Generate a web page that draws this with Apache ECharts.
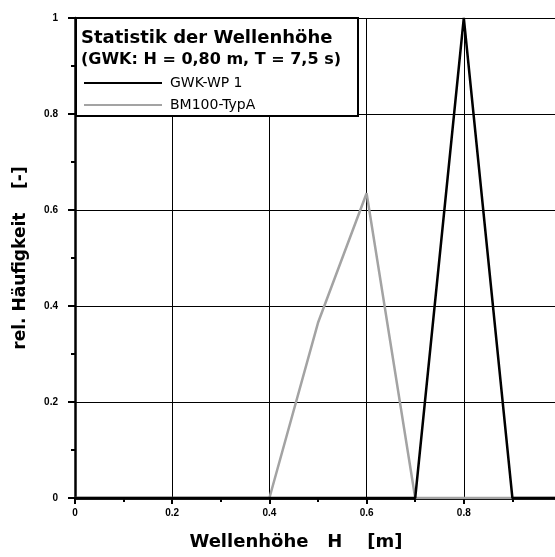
<!DOCTYPE html>
<html lang="de">
<head>
  <meta charset="UTF-8">
  <title>Statistik der Wellenhöhe</title>
  <script src="https://cdn.jsdelivr.net/npm/echarts@6/dist/echarts.min.js"></script>
  <style>
    html, body { margin: 0; padding: 0; background: #fff; }
    #chart { width: 555px; height: 557px; }
  </style>
</head>
<body>
<div id="chart"></div>
<script>
  // Wellenhöhe H [m] und relative Häufigkeiten
  var hValues = [0, 0.1, 0.2, 0.3, 0.4, 0.5, 0.6, 0.7, 0.8, 0.9, 1.0];
  var gwkWp1 = [0, 0, 0, 0, 0, 0, 0, 0, 1, 0, 0];
  var bm100TypA = [0, 0, 0, 0, 0, 0.365, 0.635, 0, 0, 0, 0];
  var seriesNames = ['GWK-WP 1', 'BM100-TypA'];

  function pairs(ys) {
    return hValues.map(function (x, i) { return [x, ys[i]]; });
  }

  var font = 'Liberation Sans, Arial, sans-serif';
  var chart = echarts.init(document.getElementById('chart'));

  var option = {
    animation: false,
    backgroundColor: '#fff',
    title: {
      text: 'Statistik der Wellenhöhe',
      subtext: '(GWK: H = 0,80 m, T = 7,5 s)',
      left: 81,
      top: 29,
      padding: 0,
      itemGap: 5,
      z: 60,
      textStyle: { fontFamily: 'DejaVu Sans', fontWeight: 'bold', fontSize: 18, color: '#000' },
      subtextStyle: { fontFamily: 'DejaVu Sans', fontWeight: 'bold', fontSize: 16, color: '#000' }
    },
    legend: {
      data: seriesNames,
      orient: 'vertical',
      left: 84,
      top: 76,
      padding: 0,
      itemGap: 8,
      itemWidth: 78,
      itemHeight: 2,
      icon: 'rect',
      z: 60,
      textStyle: { fontFamily: 'DejaVu Sans', fontSize: 14, color: '#000', padding: [0, 0, 0, 3] }
    },
    graphic: [{
      type: 'rect',
      z: 50,
      shape: { x: 76, y: 18, width: 282, height: 98 },
      style: { fill: '#fff', stroke: '#000', lineWidth: 2 }
    }],
    grid: { left: 75, top: 18, width: 486, height: 480, outerBoundsMode: 'none' },
    xAxis: [{
      type: 'value',
      min: 0,
      max: 1,
      interval: 0.2,
      name: 'Wellenhöhe   H    [m]',
      nameLocation: 'middle',
      nameGap: 35,
      nameTextStyle: { fontFamily: 'DejaVu Sans', fontWeight: 'bold', fontSize: 18, color: '#000', padding: [0, 44, 0, 0] },
      axisLine: { onZero: false, lineStyle: { color: '#000', width: 2.5 } },
      axisTick: { inside: false, length: 6, lineStyle: { color: '#000', width: 2 } },
      minorTick: { show: true, splitNumber: 2, length: 4, lineStyle: { color: '#000', width: 2 } },
      axisLabel: { margin: 10, showMaxLabel: true, hideOverlap: false, fontFamily: font, fontWeight: 'bold', fontSize: 10, color: '#000' },
      splitLine: { show: true, lineStyle: { color: '#000', width: 1 } }
    }, {
      type: 'value',
      position: 'top',
      min: 0,
      max: 1,
      axisLine: { show: true, lineStyle: { color: '#000', width: 2.5 } },
      axisTick: { show: false },
      axisLabel: { show: false },
      splitLine: { show: false }
    }],
    yAxis: {
      type: 'value',
      min: 0,
      max: 1,
      interval: 0.2,
      name: 'rel. Häufigkeit    [-]',
      nameLocation: 'middle',
      nameRotate: 90,
      nameGap: 46,
      nameTextStyle: { fontFamily: 'DejaVu Sans', fontWeight: 'bold', fontSize: 17, color: '#000' },
      axisLine: { show: true, onZero: false, lineStyle: { color: '#000', width: 2.5 } },
      axisTick: { show: true, length: 7, lineStyle: { color: '#000', width: 2 } },
      minorTick: { show: true, splitNumber: 2, length: 4, lineStyle: { color: '#000', width: 2 } },
      axisLabel: { margin: 17, fontFamily: font, fontWeight: 'bold', fontSize: 10, color: '#000' },
      splitLine: { show: true, lineStyle: { color: '#000', width: 1 } }
    },
    series: [
      {
        name: seriesNames[1],
        type: 'line',
        data: pairs(bm100TypA),
        showSymbol: false,
        color: '#a3a3a3',
        lineStyle: { color: '#a3a3a3', width: 2.5 },
        z: 3
      },
      {
        name: seriesNames[0],
        type: 'line',
        data: pairs(gwkWp1),
        showSymbol: false,
        color: '#000',
        lineStyle: { color: '#000', width: 2.5 },
        z: 4
      }
    ]
  };

  chart.setOption(option);
</script>
</body>
</html>
